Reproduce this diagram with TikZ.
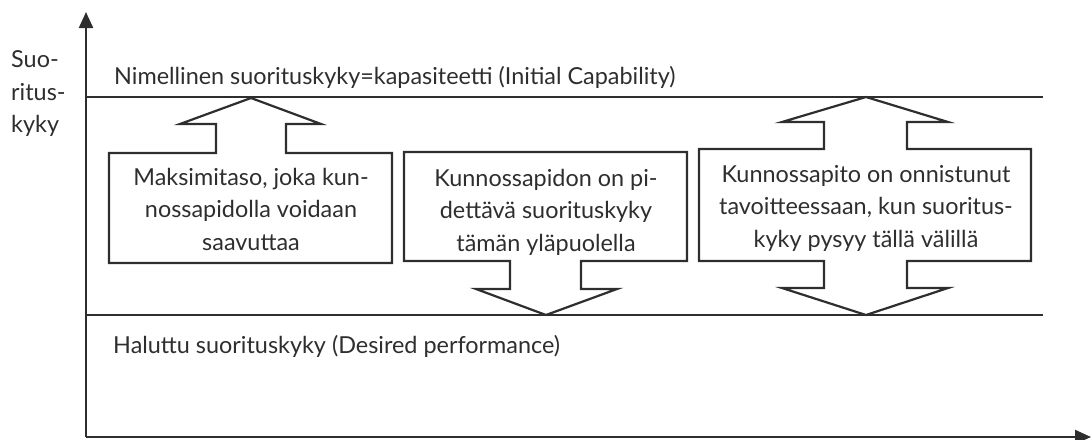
\documentclass[tikz,border=0pt]{standalone}
\usepackage{fontspec}
\setmainfont{Lato}
\usetikzlibrary{arrows.meta}
\definecolor{ink}{HTML}{2E2E2E}
\definecolor{txt}{HTML}{2E2E2E}
\tikzset{
  axisline/.style={draw=ink, line width=2.2pt, -{Triangle[length=16pt,width=14pt]}},
  levelline/.style={draw=ink, line width=2.2pt},
  boxarrow/.style={draw=ink, line width=2.2pt, line join=miter},
  lbl/.style={text=txt, font=\fontsize{23.4}{32.5}\selectfont, inner sep=0pt},
  boxtext/.style={lbl, align=center},
}
\begin{document}
\begin{tikzpicture}[x=1pt, y=-1pt]
  \useasboundingbox (0,0) rectangle (1091,439);
  % axes
  \coordinate (origin) at (86,437);
  \coordinate (ytip) at (86,12);
  \coordinate (xtip) at (1091,437);
  \draw[axisline] (origin) -- (ytip);
  \draw[axisline] (origin) -- (xtip);
  % capability and desired levels
  \coordinate (capL) at (86,97);
  \coordinate (capR) at (1043,97);
  \coordinate (desL) at (86,315);
  \coordinate (desR) at (1043,315);
  \draw[levelline] (capL) -- (capR);
  \draw[levelline] (desL) -- (desR);
  % axis label
  \node[lbl, anchor=west, align=left] (ylabel) at (11,94) {Suo-\\ritus-\\kyky};
  \node[lbl, anchor=base west] (caplabel) at (114,84) {Nimellinen suorituskyky=kapasiteetti (Initial Capability)};
  \node[lbl, anchor=base west] (deslabel) at (113,353) {Haluttu suorituskyky (Desired performance)};
  % box with upward arrow
  \draw[boxarrow] (109,153) -- (216,153) -- (216,124) -- (180,124) -- (251,98)
    -- (321,124) -- (286,124) -- (286,153) -- (392,153) -- (392,263) -- (109,263) -- cycle;
  \node[boxtext] (maxbox) at (251,209) {Maksimitaso, joka kun-\\nossapidolla voidaan\\saavuttaa};
  % box with downward arrow
  \draw[boxarrow] (404,152) -- (687,152) -- (687,261) -- (581,261) -- (581,289) -- (617,289)
    -- (546,315) -- (476,289) -- (510,289) -- (510,261) -- (404,261) -- cycle;
  \node[boxtext] (minbox) at (546,212) {Kunnossapidon on pi-\\dettävä suorituskyky\\tämän yläpuolella};
  % box with double arrow
  \draw[boxarrow] (699,149) -- (824,149) -- (824,122) -- (782,122) -- (866,97) -- (948,122)
    -- (907,122) -- (907,149) -- (1031,149) -- (1031,261) -- (907,261) -- (907,288)
    -- (948,288) -- (866,315) -- (782,288) -- (824,288) -- (824,261) -- (699,261) -- cycle;
  \node[boxtext] (rangebox) at (866,208) {Kunnossapito on onnistunut\\tavoitteessaan, kun suoritus-\\kyky pysyy tällä välillä};
\end{tikzpicture}
\end{document}
